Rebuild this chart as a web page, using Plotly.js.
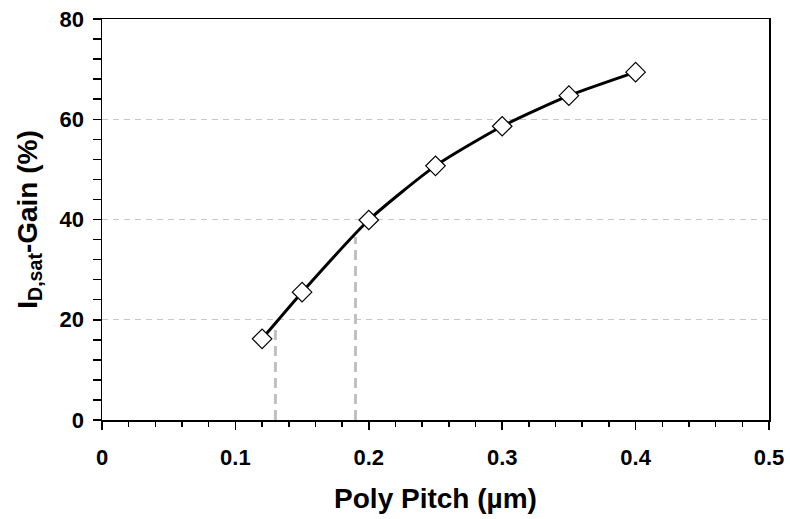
<!DOCTYPE html>
<html>
<head>
<meta charset="utf-8">
<script src="https://cdn.plot.ly/plotly-3.0.1.min.js"></script>
<style>body{margin:0;padding:0;background:#fff;}#chart{width:790px;height:519px;}</style>
</head>
<body>
<div id="chart"></div>
<script>
const pitch = [0.12, 0.15, 0.20, 0.25, 0.30, 0.35, 0.40];
const gain = [16.2, 25.5, 39.9, 50.7, 58.6, 64.7, 69.4];
const markX1 = [0.13, 0.13];
const markY1 = [0, 19.2];
const markX2 = [0.19, 0.19];
const markY2 = [0, 36.5];
const xTicks = [0, 0.1, 0.2, 0.3, 0.4, 0.5];
const xTickText = ['0', '0.1', '0.2', '0.3', '0.4', '0.5'];
const yTicks = [0, 20, 40, 60, 80];

const font = 'Liberation Sans, Arial, sans-serif';
const traces = [
  {x: markX1, y: markY1, mode: 'lines', line: {color: '#c0c0c0', width: 3, dash: '10px,6px'}, hoverinfo: 'skip'},
  {x: markX2, y: markY2, mode: 'lines', line: {color: '#c0c0c0', width: 3, dash: '10px,6px'}, hoverinfo: 'skip'},
  {x: pitch, y: gain, mode: 'lines+markers', line: {color: 'black', width: 3, shape: 'spline', smoothing: 0.6},
   marker: {symbol: 'diamond', size: 15, color: 'white', line: {color: 'black', width: 1.2}}}
];
const layout = {
  width: 790, height: 519,
  margin: {l: 102, r: 21, t: 19, b: 99},
  showlegend: false,
  paper_bgcolor: 'white', plot_bgcolor: 'white',
  font: {family: font, color: 'black'},
  xaxis: {
    range: [0, 0.5], tickvals: xTicks, ticktext: xTickText,
    ticks: 'outside', ticklen: 8, tickwidth: 1.5, tickcolor: 'black',
    minor: {dtick: 0.02, ticks: 'outside', ticklen: 5, tickwidth: 1.5, tickcolor: 'black', showgrid: false},
    showline: true, linecolor: 'black', linewidth: 1.5, mirror: true,
    showgrid: false, zeroline: false,
    tickfont: {family: font, size: 22, color: 'black', weight: 'bold'},
    ticklabelstandoff: 9,
    title: {text: '<b>Poly Pitch (µm)</b>', font: {family: font, size: 28, color: 'black'}, standoff: 19}
  },
  yaxis: {
    range: [0, 80], tickvals: yTicks,
    ticks: 'outside', ticklen: 8, tickwidth: 1.5, tickcolor: 'black',
    minor: {dtick: 4, ticks: 'outside', ticklen: 8, tickwidth: 1.5, tickcolor: 'black', showgrid: false},
    showline: true, linecolor: 'black', linewidth: 1.5, mirror: true,
    showgrid: true, gridcolor: '#c8c8c8', griddash: '6px,5px', gridwidth: 1,
    zeroline: false,
    tickfont: {family: font, size: 22, color: 'black', weight: 'bold'},
    ticklabelstandoff: 4,
    title: {text: '<b>I<sub>D,sat</sub>-Gain (%)</b>', font: {family: font, size: 28, color: 'black'}, standoff: 14}
  }
};
Plotly.newPlot('chart', traces, layout, {displayModeBar: false, staticPlot: true});
</script>
</body>
</html>
